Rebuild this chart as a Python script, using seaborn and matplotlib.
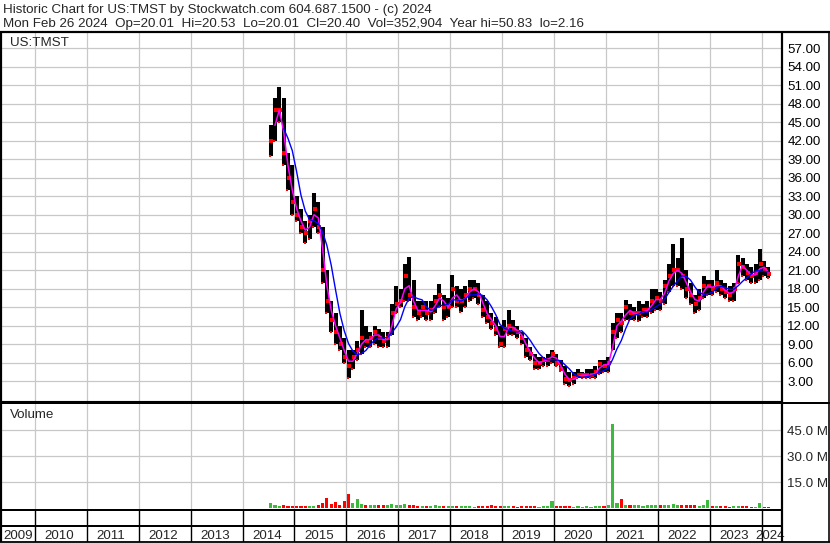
import numpy as np
import pandas as pd
import matplotlib
matplotlib.use("Agg")
import matplotlib.pyplot as plt
import seaborn as sns

# ---------------- data (monthly) ----------------
start_month = "2014-07"
high = [
    44.5, 49.0, 50.8, 49.0, 40.0, 38.0,
    33.0, 31.0, 29.0, 30.0, 33.5, 32.0, 28.0, 21.0, 16.0, 14.0, 12.0, 10.0,
    8.0, 8.0, 9.5, 14.5, 12.0, 11.0, 12.0, 11.5, 11.0, 11.0, 15.5, 18.4,
    18.0, 22.0, 23.1, 19.5, 16.0, 16.0, 16.0, 16.0, 17.0, 18.7, 17.0, 16.5,
    20.3, 18.5, 18.0, 18.5, 19.5, 19.5, 19.0, 17.0, 16.0, 14.0, 13.5, 12.0,
    13.0, 14.6, 13.0, 12.0, 11.0, 10.0, 8.5, 7.5, 7.0, 7.0, 7.5, 8.1,
    7.5, 6.5, 5.5, 4.5, 4.5, 5.0, 4.5, 5.0, 5.0, 5.5, 6.5, 6.5,
    7.0, 12.5, 14.0, 14.0, 16.2, 15.5, 15.0, 16.0, 15.5, 16.0, 17.9, 18.0,
    17.5, 19.5, 22.0, 25.2, 23.0, 26.3, 21.0, 19.0, 17.0, 18.0, 20.0, 19.5,
    19.5, 21.0, 19.5, 19.0, 18.5, 19.0, 23.5, 23.0, 22.0, 21.5, 22.0, 24.4,
    22.5, 21.5,
]
low = [
    39.5, 42.0, 45.0, 38.0, 34.0, 30.0,
    29.0, 27.0, 25.5, 26.0, 28.0, 27.0, 19.0, 14.0, 11.0, 9.0, 8.0, 6.0,
    3.6, 5.0, 6.5, 7.5, 8.5, 8.5, 9.0, 8.5, 8.5, 8.5, 10.5, 14.0,
    15.0, 16.0, 16.0, 13.5, 13.0, 13.5, 13.0, 13.0, 14.0, 15.0, 13.0, 13.5,
    15.0, 15.0, 14.3, 15.0, 16.0, 16.5, 15.5, 13.5, 12.5, 11.5, 10.5, 8.5,
    8.5, 10.5, 10.5, 10.0, 9.0, 7.0, 6.5, 5.0, 5.0, 5.5, 5.5, 6.0,
    5.5, 4.6, 2.5, 2.16, 2.5, 3.5, 3.5, 3.5, 3.5, 3.5, 4.2, 4.5,
    4.5, 8.0, 10.0, 11.0, 13.0, 13.0, 13.0, 12.7, 13.5, 13.5, 14.0, 14.5,
    14.5, 15.5, 17.5, 18.4, 18.5, 18.0, 16.5, 15.5, 14.1, 14.5, 16.5, 17.0,
    17.0, 17.5, 17.0, 16.5, 16.0, 16.0, 19.0, 20.0, 19.5, 19.0, 19.0, 19.5,
    20.0, 19.8,
]
close = [
    42.0, 47.0, 47.0, 40.0, 36.0, 32.0,
    30.0, 28.0, 27.0, 29.0, 31.0, 28.0, 21.0, 16.0, 13.0, 11.0, 9.0, 7.0,
    5.5, 7.0, 8.0, 10.0, 9.5, 10.0, 11.0, 10.0, 9.5, 10.0, 14.0, 15.5,
    16.0, 20.0, 17.0, 15.0, 14.0, 15.0, 14.0, 14.5, 16.0, 17.0, 15.0, 15.0,
    18.0, 16.0, 16.0, 17.0, 18.0, 18.0, 17.0, 14.5, 13.5, 12.5, 11.5, 9.0,
    11.5, 12.0, 11.5, 11.0, 10.0, 8.0, 7.5, 6.0, 6.0, 6.5, 6.5, 7.5,
    6.0, 5.0, 3.3, 3.2, 3.5, 4.0, 4.0, 4.0, 4.0, 4.5, 5.8, 5.5,
    6.0, 11.0, 13.0, 12.5, 15.0, 14.0, 14.0, 14.0, 14.5, 14.5, 16.0, 16.5,
    16.0, 18.5, 20.0, 21.0, 21.0, 20.0, 18.0, 17.0, 15.5, 16.5, 18.5, 18.5,
    18.0, 19.0, 18.0, 17.5, 17.0, 18.0, 22.0, 21.5, 20.5, 20.0, 20.5, 22.0,
    21.0, 20.4,
]
volume_m = [
    3.0, 1.5, 1.2, 1.5, 1.0, 1.2,
    1.0, 1.0, 1.2, 1.0, 1.0, 1.5, 3.0, 5.8, 2.5, 3.5, 2.0, 3.9,
    8.0, 3.0, 5.0, 2.5, 2.0, 1.5, 2.0, 1.5, 1.5, 1.5, 2.5, 2.0,
    1.5, 2.5, 2.0, 1.5, 1.2, 1.0, 1.2, 1.0, 1.5, 1.2, 1.0, 1.0,
    1.0, 1.2, 1.0, 1.0, 1.0, 0.8, 1.0, 1.2, 1.0, 1.5, 1.2, 1.0,
    1.2, 1.0, 1.0, 0.8, 1.0, 1.2, 1.0, 1.0, 0.8, 1.0, 1.2, 3.9,
    1.0, 1.0, 1.2, 1.0, 0.8, 1.0, 0.8, 1.0, 0.8, 1.0, 1.0, 1.2,
    1.5, 49.0, 3.0, 5.0, 2.0, 1.5, 1.5, 1.5, 1.2, 1.5, 2.0, 1.5,
    1.5, 1.5, 2.0, 2.5, 2.0, 1.8, 1.5, 1.5, 1.5, 1.2, 1.5, 4.7,
    1.2, 1.0, 1.0, 1.0, 0.8, 1.0, 1.2, 1.0, 1.0, 0.8, 0.8, 3.0,
    0.8, 0.6,
]
years = list(range(2009, 2025))
price_ticks = [3, 6, 9, 12, 15, 18, 21, 24, 27, 30, 33, 36, 39, 42, 45, 48, 51, 54, 57]
volume_ticks = [15, 30, 45]
title1 = "Historic Chart for US:TMST by Stockwatch.com 604.687.1500 - (c) 2024"
title2 = ("Mon Feb 26 2024  Op=20.01  Hi=20.53  Lo=20.01  Cl=20.40  "
          "Vol=352,904  Year hi=50.83  lo=2.16")

# ---------------- table ----------------
per = pd.period_range(start_month, periods=len(close), freq="M")
df = pd.DataFrame({
    "t": per.year + (per.month - 0.5) / 12.0,
    "high": high, "low": low, "close": close, "vol": volume_m,
})
df["ma_short"] = df["close"].rolling(2).mean()
df["ma_long"] = df["close"].rolling(5, min_periods=4).mean()
df["up"] = df["close"].diff().fillna(1) >= 0

# ---------------- figure ----------------
sns.set_style("white")
plt.rcParams["font.family"] = ["Liberation Sans", "DejaVu Sans"]
FS = 9.6
W, H = 830, 543
fig = plt.figure(figsize=(W / 100, H / 100), dpi=100)


def rect(x0, y0, x1, y1):
    return [x0 / W, 1 - y1 / H, (x1 - x0) / W, (y1 - y0) / H]


PX_PER_YEAR = 51.95
X0 = 2014 + (1.5 - 242.5) / PX_PER_YEAR
X1 = 2014 + (781.5 - 242.5) / PX_PER_YEAR
GRID = "#C8C8C8"

ax_p = fig.add_axes(rect(1.5, 32, 781.5, 400.7))
ax_v = fig.add_axes(rect(1.5, 402.5, 781.5, 509.5))
ax_y = fig.add_axes(rect(1.5, 509.5, 781.5, 541.5))

for ax in (ax_p, ax_v, ax_y):
    ax.set_xlim(X0, X1)
    for s in ax.spines.values():
        s.set_visible(False)
    ax.tick_params(length=0)
    ax.set_xticks([])
    ax.set_facecolor("white")

# price panel
ax_p.set_ylim(-0.15, 59.64)
ax_p.set_axisbelow(True)
for yr in years[1:]:
    ax_p.axvline(yr, color=GRID, lw=0.9, zorder=0)
for v in price_ticks:
    ax_p.axhline(v, color=GRID, lw=0.9, zorder=0)
ax_p.vlines(df["t"], df["low"], df["high"], color="black", lw=2.9, zorder=2)
sns.scatterplot(data=df, x=df["t"] + 0.013, y="close", color="red", marker="s",
                s=5, linewidth=0, ax=ax_p, zorder=3, legend=False)
sns.scatterplot(data=df, x=df["t"] - 0.013, y="low", color="red", marker="s",
                s=4, linewidth=0, ax=ax_p, zorder=3, legend=False)
sns.lineplot(data=df, x="t", y="ma_short", color="#FF00FF", lw=1.1, ax=ax_p, zorder=4)
sns.lineplot(data=df, x="t", y="ma_long", color="#0000FF", lw=1.0, ax=ax_p, zorder=5)
ax_p.yaxis.tick_right()
ax_p.set_yticks(price_ticks)
ax_p.set_yticklabels([f"{v:.2f}" for v in price_ticks], fontsize=FS)
ax_p.tick_params(axis="y", pad=4.2, colors="black")
ax_p.set_xlabel("")
ax_p.set_ylabel("")
ax_p.text(8.5 / 779.0, 1 - (46 - 32) / 368.7, "US:TMST", transform=ax_p.transAxes,
          fontsize=FS, va="baseline", ha="left")

# volume panel
ax_v.set_ylim(-0.9, 61.2)
for yr in years[1:]:
    ax_v.axvline(yr, color=GRID, lw=0.9, zorder=0)
for v in volume_ticks:
    ax_v.axhline(v, color=GRID, lw=0.9, zorder=0)
vcols = np.where(df["up"], "#3DBA3D", "#FF0000")
ax_v.bar(df["t"], df["vol"], width=0.06, color=vcols, linewidth=0, zorder=2)
ax_v.yaxis.tick_right()
ax_v.set_yticks(volume_ticks)
ax_v.set_yticklabels([f"{v:.1f} M" for v in volume_ticks], fontsize=FS)
ax_v.tick_params(axis="y", pad=4.2)
ax_v.text(8.0 / 779.0, 1 - (418 - 402.5) / 107.0, "Volume", transform=ax_v.transAxes,
          fontsize=FS, va="baseline", ha="left")

# year strip
ax_y.set_ylim(0, 1)
ax_y.set_yticks([])
for yr in years[1:]:
    ax_y.axvline(yr, color="black", lw=1.0)
for yr in years:
    if yr == years[0]:
        xl, ha = X0 + 1.5 / PX_PER_YEAR, "left"
    elif yr == years[-1]:
        xl, ha = X1 + 3.0 / PX_PER_YEAR, "right"
    else:
        xl, ha = yr + 9.5 / PX_PER_YEAR, "left"
    ax_y.text(xl, (541.5 - 539.3) / 32.0, str(yr), fontsize=FS, ha=ha,
              va="baseline", clip_on=False)

# frame lines (overlay in pixel coordinates)
ov = fig.add_axes([0, 0, 1, 1])
ov.set_xlim(0, W)
ov.set_ylim(H, 0)
ov.axis("off")
K = 0.72  # points per pixel
segs = [
    ((0, 32), (W, 32), 2.2),
    ((1, 32), (1, 542), 2.2),
    ((828.6, 32), (828.6, 542), 1.6),
    ((0, 541.8), (W, 541.8), 1.8),
    ((781.7, 32), (781.7, 542), 2.2),
    ((0, 400.7), (781.7, 400.7), 1.1),
    ((0, 402.8), (W, 402.8), 2.0),
    ((0, 509.6), (781.7, 509.6), 2.0),
    ((0, 525.8), (781.7, 525.8), 2.0),
]
for (xa, ya), (xb, yb), lw in segs:
    ov.plot([xa, xb], [ya, yb], color="black", lw=lw * K, solid_capstyle="butt")

fig.text(3 / W, 1 - 13.5 / H, title1, fontsize=FS, va="baseline", ha="left")
fig.text(3 / W, 1 - 27.0 / H, title2, fontsize=FS, va="baseline", ha="left")

fig.savefig("out.png", dpi=100, facecolor="white")
